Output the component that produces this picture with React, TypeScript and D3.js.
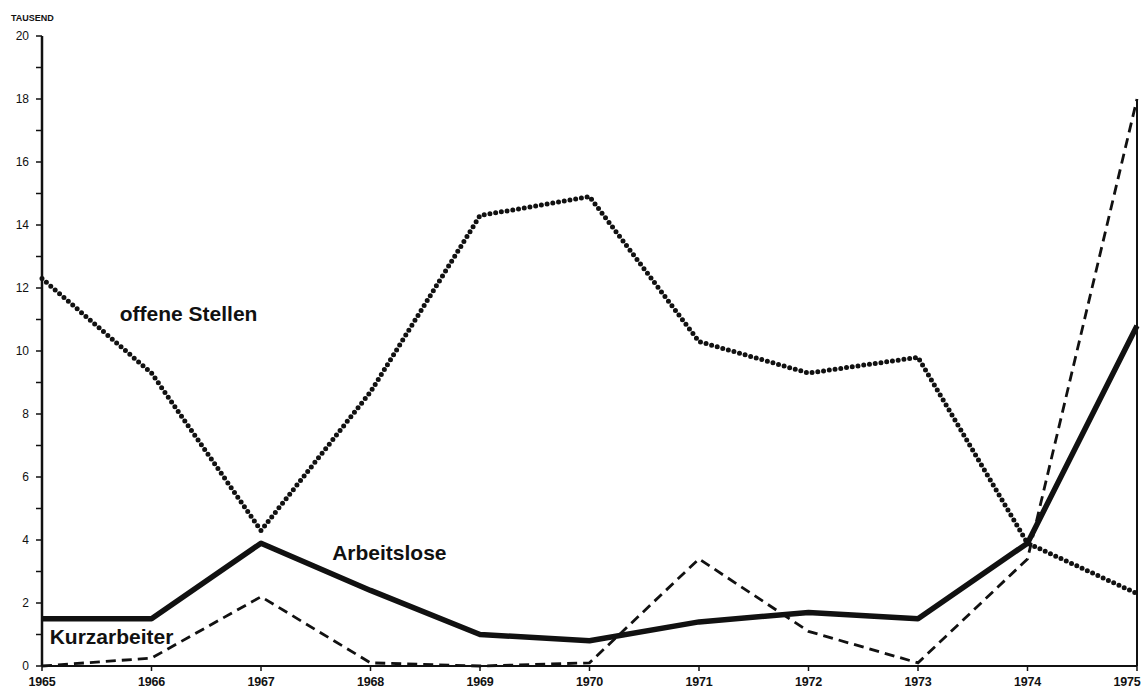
import * as d3 from "d3"
import { useRef, useEffect } from "react"

const years = [1965, 1966, 1967, 1968, 1969, 1970, 1971, 1972, 1973, 1974, 1975]
const offeneStellen = [12.3, 9.3, 4.3, 8.7, 14.3, 14.9, 10.3, 9.3, 9.8, 3.9, 2.3]
const arbeitslose = [1.5, 1.5, 3.9, 2.4, 1.0, 0.8, 1.4, 1.7, 1.5, 3.9, 10.8]
const kurzarbeiter = [0, 0.25, 2.2, 0.1, 0, 0.1, 3.4, 1.1, 0.1, 3.4, 18]
const yTicks = [0, 2, 4, 6, 8, 10, 12, 14, 16, 18, 20]
const yMinorTicks = [1, 3, 5, 7, 9, 11, 13, 15, 17, 19]

const W = 1141
const H = 693
const FONT = "'Liberation Sans', Arial, sans-serif"

export default function App() {
  const svgRef = useRef<SVGSVGElement>(null)

  useEffect(() => {
    if (!svgRef.current) return
    const svg = d3.select(svgRef.current)
    svg.selectAll("*").remove()

    const margin = { top: 36, right: 4, bottom: 27, left: 42 }

    const x = d3
      .scaleLinear()
      .domain([1965, 1975])
      .range([margin.left, W - margin.right])

    const y = d3
      .scaleLinear()
      .domain([0, 20])
      .range([H - margin.bottom, margin.top])

    svg.append("rect").attr("width", W).attr("height", H).attr("fill", "#fff")

    // y axis
    svg
      .append("line")
      .attr("x1", x(1965))
      .attr("x2", x(1965))
      .attr("y1", y(20))
      .attr("y2", y(0))
      .attr("stroke", "#111")
      .attr("stroke-width", 2.5)

    svg
      .append("g")
      .selectAll("line")
      .data(yTicks.concat(yMinorTicks))
      .enter()
      .append("line")
      .attr("x1", x(1965) - 6)
      .attr("x2", x(1965))
      .attr("y1", (d) => y(d))
      .attr("y2", (d) => y(d))
      .attr("stroke", "#111")
      .attr("stroke-width", 1.5)

    svg
      .append("g")
      .selectAll("text")
      .data(yTicks)
      .enter()
      .append("text")
      .attr("x", x(1965) - 13)
      .attr("y", (d) => y(d))
      .attr("dy", "0.35em")
      .attr("text-anchor", "end")
      .style("font-family", FONT)
      .style("font-size", "12px")
      .style("fill", "#111")
      .text((d) => d)

    svg
      .append("text")
      .attr("x", 11)
      .attr("y", 21)
      .style("font-family", FONT)
      .style("font-size", "9px")
      .style("font-weight", "bold")
      .style("fill", "#111")
      .text("TAUSEND")

    // x axis
    svg
      .append("line")
      .attr("x1", x(1965))
      .attr("x2", x(1975))
      .attr("y1", y(0))
      .attr("y2", y(0))
      .attr("stroke", "#111")
      .attr("stroke-width", 2)

    svg
      .append("line")
      .attr("x1", x(1975))
      .attr("x2", x(1975))
      .attr("y1", y(18))
      .attr("y2", y(0))
      .attr("stroke", "#111")
      .attr("stroke-width", 2)

    svg
      .append("g")
      .selectAll("line")
      .data(years)
      .enter()
      .append("line")
      .attr("x1", (d) => x(d))
      .attr("x2", (d) => x(d))
      .attr("y1", y(0))
      .attr("y2", y(0) + 5)
      .attr("stroke", "#111")
      .attr("stroke-width", 1.5)

    svg
      .append("g")
      .selectAll("text")
      .data(years)
      .enter()
      .append("text")
      .attr("x", (d) => Math.min(x(d), W - 14))
      .attr("y", y(0) + 20)
      .attr("text-anchor", "middle")
      .style("font-family", FONT)
      .style("font-size", "12.5px")
      .style("font-weight", "bold")
      .style("letter-spacing", "-0.2px")
      .style("fill", "#111")
      .text((d) => d)

    const line = d3
      .line<number>()
      .x((_, i) => x(years[i]))
      .y((d) => y(d))

    svg
      .append("path")
      .datum(kurzarbeiter)
      .attr("fill", "none")
      .attr("stroke", "#111")
      .attr("stroke-width", 2.8)
      .attr("stroke-dasharray", "10,6")
      .attr("d", line)

    svg
      .append("path")
      .datum(offeneStellen)
      .attr("fill", "none")
      .attr("stroke", "#111")
      .attr("stroke-width", 5)
      .attr("stroke-linecap", "round")
      .attr("stroke-dasharray", "0,5.8")
      .attr("d", line)

    svg
      .append("path")
      .datum(arbeitslose)
      .attr("fill", "none")
      .attr("stroke", "#111")
      .attr("stroke-width", 5.5)
      .attr("stroke-linejoin", "round")
      .attr("d", line)

    const labels = [
      { text: "offene Stellen", year: 1965.71, value: 10.95 },
      { text: "Arbeitslose", year: 1967.65, value: 3.35 },
      { text: "Kurzarbeiter", year: 1965.07, value: 0.7 },
    ]

    svg
      .append("g")
      .selectAll("text")
      .data(labels)
      .enter()
      .append("text")
      .attr("x", (d) => x(d.year))
      .attr("y", (d) => y(d.value))
      .style("font-family", FONT)
      .style("font-size", "21px")
      .style("font-weight", "bold")
      .style("fill", "#111")
      .text((d) => d.text)
  }, [])

  return (
    <div style={{ position: "absolute", left: 0, top: 0 }}>
      <svg ref={svgRef} width={W} height={H}></svg>
    </div>
  )
}
